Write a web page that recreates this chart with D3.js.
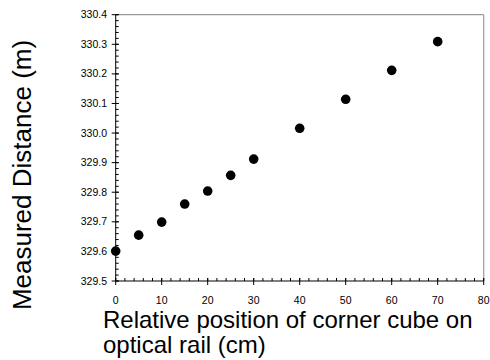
<!DOCTYPE html>
<html>
<head>
<meta charset="utf-8">
<script src="https://cdn.jsdelivr.net/npm/d3@7"></script>
<style>
  html, body { margin: 0; padding: 0; background: #fff; }
  svg { display: block; font-family: Arial, "Liberation Sans", sans-serif; }
</style>
</head>
<body>
<svg id="chart" width="490" height="360"></svg>
<script>
const positions = [0, 5, 10, 15, 20, 25, 30, 40, 50, 60, 70];
const distances = [329.601, 329.655, 329.699, 329.760, 329.804, 329.857, 329.912, 330.016, 330.114, 330.212, 330.309];
const xTicks = [0, 10, 20, 30, 40, 50, 60, 70, 80];
const yTicks = [329.5, 329.6, 329.7, 329.8, 329.9, 330.0, 330.1, 330.2, 330.3, 330.4];
const xTitleLines = ["Relative position of corner cube on", "optical rail (cm)"];
const yTitle = "Measured Distance (m)";

(function () {
const svg = d3.select("#chart");
const pLeft = 115.7, pRight = 483.7, pTop = 14.7, pBottom = 281;

const x = d3.scaleLinear().domain([0, 80]).range([pLeft, pRight]);
const y = d3.scaleLinear().domain([329.5, 330.4]).range([pBottom, pTop]);

// frame (top & right)
svg.append("line").attr("x1", pLeft).attr("x2", pRight).attr("y1", pTop).attr("y2", pTop)
  .attr("stroke", "#999").attr("stroke-width", 1.2);
svg.append("line").attr("x1", pRight).attr("x2", pRight).attr("y1", pTop).attr("y2", pBottom)
  .attr("stroke", "#999").attr("stroke-width", 1.2);

// minor ticks
const xMinor = d3.range(0, 80.001, 2);
const yMinor = d3.range(0, 45.5, 1).map(i => 329.5 + i * 0.02);

const gx = svg.append("g");
gx.selectAll("line.minor").data(xMinor).enter().append("line")
  .attr("x1", d => x(d)).attr("x2", d => x(d))
  .attr("y1", pBottom).attr("y2", pBottom - 3)
  .attr("stroke", "#000").attr("stroke-width", 1);
gx.selectAll("line.major").data(xTicks).enter().append("line")
  .attr("x1", d => x(d)).attr("x2", d => x(d))
  .attr("y1", pBottom - 3).attr("y2", pBottom + 4)
  .attr("stroke", "#000").attr("stroke-width", 1);
gx.append("line").attr("x1", pLeft).attr("x2", pRight).attr("y1", pBottom).attr("y2", pBottom)
  .attr("stroke", "#000").attr("stroke-width", 1);
gx.selectAll("text").data(xTicks).enter().append("text")
  .attr("x", d => x(d)).attr("y", pBottom + 23)
  .attr("text-anchor", "middle").attr("font-size", "10.5px").attr("fill", "#000")
  .text(d => d);

const gy = svg.append("g");
gy.selectAll("line.minor").data(yMinor).enter().append("line")
  .attr("x1", pLeft).attr("x2", pLeft + 3)
  .attr("y1", d => y(d)).attr("y2", d => y(d))
  .attr("stroke", "#000").attr("stroke-width", 1);
gy.selectAll("line.major").data(yTicks).enter().append("line")
  .attr("x1", pLeft - 4).attr("x2", pLeft + 3)
  .attr("y1", d => y(d)).attr("y2", d => y(d))
  .attr("stroke", "#000").attr("stroke-width", 1);
gy.append("line").attr("x1", pLeft).attr("x2", pLeft).attr("y1", pTop).attr("y2", pBottom)
  .attr("stroke", "#000").attr("stroke-width", 1);
gy.selectAll("text").data(yTicks).enter().append("text")
  .attr("x", 107).attr("y", d => y(d) + 3.5)
  .attr("text-anchor", "end").attr("font-size", "10.5px").attr("fill", "#000")
  .text(d => d.toFixed(1));

// points
svg.append("g").selectAll("circle").data(positions).enter().append("circle")
  .attr("cx", (d) => x(d)).attr("cy", (d, i) => y(distances[i]))
  .attr("r", 4.8).attr("fill", "#000");

// titles
const xt = svg.append("text").attr("font-size", "24px").attr("fill", "#000");
xt.selectAll("tspan").data(xTitleLines).enter().append("tspan")
  .attr("x", 103).attr("y", (d, i) => 328 + i * 25)
  .text(d => d);

svg.append("text")
  .attr("transform", "translate(30.5,175) rotate(-90)")
  .attr("text-anchor", "middle").attr("font-size", "26px").attr("fill", "#000")
  .text(yTitle);
})();
</script>
</body>
</html>
